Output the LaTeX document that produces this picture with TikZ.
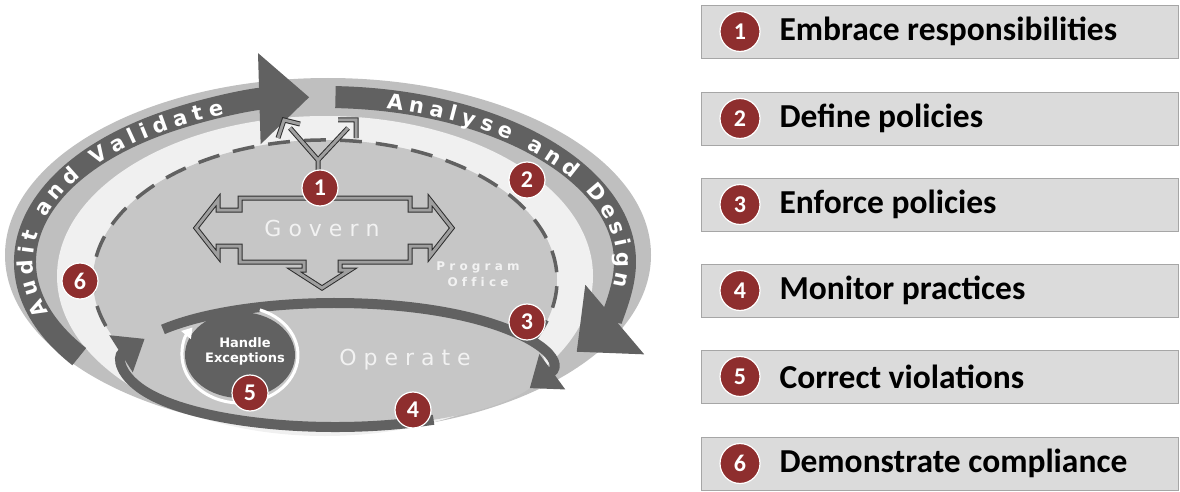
\documentclass[tikz,border=0pt]{standalone}
\usepackage{fontspec}
\setmainfont{Carlito}
\setsansfont{DejaVu Sans}
\usetikzlibrary{decorations.text,arrows.meta}
\definecolor{redc}{HTML}{8E2E2E}
\definecolor{band}{gray}{0.38}
\tikzset{
  num/.style={circle,fill=redc,draw=white,line width=1.2pt,minimum size=36pt,inner sep=0,text=white,font=\bfseries\fontsize{24}{24}\selectfont},
  legbox/.style={draw=gray!70,fill=gray!28,minimum width=477pt,minimum height=53pt,anchor=north west},
  legtxt/.style={anchor=west,font=\bfseries\fontsize{33.5}{35}\selectfont,text=black},
  bigarrow/.style={draw=band,line width=22pt,-{Triangle[length=50pt,width=88pt]}},
  looparrow/.style={draw=band,line width=10pt,-{Triangle[length=28pt,width=42pt]}},
  govline/.style={draw=gray!35!black,double=gray!75,double distance=3pt,line width=1pt,line join=miter}
}
\begin{document}
\begin{tikzpicture}[x=1pt,y=1pt]
\useasboundingbox (0,0) rectangle (1180,491);
% ellipses
\fill[gray!50] (328,236) ellipse[x radius=323,y radius=177];
\fill[gray!12] (325,215) ellipse[x radius=268,y radius=160];
\fill[gray!45] (325,211) ellipse[x radius=232,y radius=140];
\fill[gray!45] (335,126) ellipse[x radius=210,y radius=62];
\draw[band,line width=3.5pt,dash pattern=on 22pt off 14pt] (325,211) ++(-25:232 and 140) arc[start angle=-25,end angle=200,x radius=232,y radius=140];
% outer arrows
\draw[bigarrow] (325,229) ++(215:300 and 165) arc[start angle=215,end angle=93,x radius=300,y radius=165];
\draw[bigarrow] (325,229) ++(88:300 and 165) arc[start angle=88,end angle=-33,x radius=300,y radius=165];
\path[decorate,decoration={text along path,text align=fit to path,raise=-8pt,
  text={|\sffamily\bfseries\fontsize{21}{21}\selectfont\color{white}|Audit and Validate}}]
  (325,229) ++(199:300 and 165) arc[start angle=199,end angle=110,x radius=300,y radius=165];
\path[decorate,decoration={text along path,text align=fit to path,raise=-8pt,
  text={|\sffamily\bfseries\fontsize{21}{21}\selectfont\color{white}|Analyse and Design}}]
  (325,229) ++(78:300 and 165) arc[start angle=78,end angle=-9,x radius=300,y radius=165];
% operate loop
\draw[looparrow] (335,126) ++(145:210 and 62) arc[start angle=145,end angle=-22,x radius=210,y radius=62];
\draw[looparrow] (335,126) ++(-62:210 and 62) arc[start angle=-62,end angle=-205,x radius=210,y radius=62];
\node[font=\sffamily\fontsize{22}{22}\selectfont,text=gray!10] (op) at (405,131) {O p e r a t e};
% handle exceptions
\fill[band] (240,136) ellipse[x radius=55,y radius=43];
\draw[white,line width=3pt,-{Triangle[length=10pt,width=12pt]}] (240,136) ++(70:58 and 48) arc[start angle=70,end angle=-215,x radius=58,y radius=48];
\node[align=center,text=white,font=\sffamily\bfseries\fontsize{13}{15}\selectfont] (he) at (245,140) {Handle\\Exceptions};
% govern
\begin{scope}[yshift=491pt,yscale=-1]
\draw[govline]
 (240,198)--(410,198)--(410,210)--(430,210)--(430,200)--(452,228)--(430,256)--(430,246)--(410,246)--(410,262)--(340,262)--(340,270)--(350,270)--(322,288)--(294,270)--(304,270)--(304,262)--(240,262)--(240,246)--(218,246)--(218,256)--(196,228)--(218,200)--(218,210)--(240,210)--cycle;
\draw[govline] (318,196)--(318,160)--(290,128) (318,160)--(348,128);
\draw[govline] (278,138)--(284,120)--(300,124) (338,120)--(356,120)--(356,138);
\node[font=\sffamily\fontsize{22}{22}\selectfont,text=gray!10] (gv) at (322,228) {G o v e r n};
\node[font=\sffamily\bfseries\fontsize{12}{16}\selectfont,text=gray!10,align=center] (po) at (478,274) {P r o g r a m\\O f f i c e};
\node[num] (n1) at (320,188) {1};
\node[num] (n2) at (527,180) {2};
\node[num] (n3) at (527,322) {3};
\node[num] (n4) at (413,410) {4};
\node[num] (n5) at (250,393) {5};
\node[num] (n6) at (80,281) {6};
% legend
\foreach \i/\y/\t in {1/5/Embrace responsibilities,2/92/Define policies,3/178/Enforce policies,4/264/Monitor practices,5/350/Correct violations,6/437/Demonstrate compliance}{
  \node[legbox] (b\i) at (701,\y) {};
  \node[num,minimum size=40pt] (c\i) at (740,\y+26.5) {\i};
  \node[legtxt] (t\i) at (776,\y+26.5) {\t};
}
\end{scope}
\end{tikzpicture}
\end{document}
